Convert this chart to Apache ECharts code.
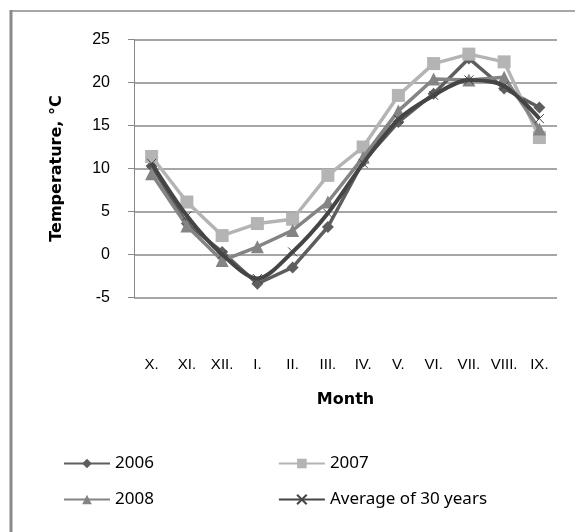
<!DOCTYPE html>
<html><head><meta charset="utf-8">
<script src="https://cdn.jsdelivr.net/npm/echarts@6/dist/echarts.min.js"></script>
<style>html,body{margin:0;padding:0;background:#fff}#c{width:575px;height:532px}</style>
</head><body><div id="c"></div>
<script>
var months = ['X.', 'XI.', 'XII.', 'I.', 'II.', 'III.', 'IV.', 'V.', 'VI.', 'VII.', 'VIII.', 'IX.'];
var s2006 = [10.3, 3.6, 0.3, -3.4, -1.5, 3.2, 10.8, 15.4, 18.7, 22.8, 19.3, 17.1];
var s2007 = [11.4, 6.1, 2.2, 3.6, 4.1, 9.2, 12.5, 18.5, 22.2, 23.3, 22.4, 13.6];
var s2008 = [9.4, 3.3, -0.7, 0.9, 2.8, 6.1, 11.3, 16.7, 20.4, 20.3, 20.6, 14.6];
var sAvg = [10.6, 4.5, 0.0, -2.8, 0.3, 4.8, 10.6, 15.7, 18.5, 20.3, 19.6, 15.8];
var names = ['2006', '2007', '2008', 'Average of 30 years'];

var tickFont = '"Liberation Sans",Arial,sans-serif';
var chart = echarts.init(document.getElementById('c'), null, {renderer: 'canvas'});
var legText = {fontFamily: 'Noto Sans', fontSize: 17, color: '#000'};
var titleStyle = {fontFamily: 'DejaVu Sans', fontWeight: 'bold', fontSize: 16, color: '#000'};
chart.setOption({
  animation: false,
  backgroundColor: '#fff',
  grid: {left: 134, right: 18, top: 39.5, bottom: 234.5, containLabel: false},
  xAxis: {
    type: 'category', data: months, boundaryGap: true,
    name: 'Month', nameLocation: 'middle', nameGap: 94,
    nameTextStyle: titleStyle,
    axisLine: {show: false}, axisTick: {show: false},
    axisLabel: {margin: 60, fontFamily: tickFont, fontSize: 15, color: '#000', interval: 0}
  },
  yAxis: {
    type: 'value', min: -5, max: 25, interval: 5,
    name: 'Temperature, \u00B0C', nameLocation: 'middle', nameGap: 69, nameRotate: 90,
    nameTextStyle: titleStyle,
    axisLine: {show: true, lineStyle: {color: '#888', width: 1}},
    axisTick: {show: true, length: 6, lineStyle: {color: '#888'}},
    axisLabel: {margin: 24, fontFamily: tickFont, fontSize: 16, color: '#000'},
    splitLine: {show: true, lineStyle: {color: '#888', width: 1.5}}
  },
  legend: [
    {data: ['2006', '2007'], left: 63, top: 455, padding: 0, orient: 'horizontal', itemWidth: 46, itemHeight: 12, itemGap: 124, textStyle: legText},
    {data: ['2008', 'Average of 30 years'], left: 63, top: 491, padding: 0, orient: 'horizontal', itemWidth: 46, itemHeight: 12, itemGap: 124, textStyle: legText}
  ],
  series: [
    {name: names[0], type: 'line', data: s2006, symbol: 'diamond', symbolSize: 12,
     lineStyle: {color: '#5e5e5e', width: 3.5}, itemStyle: {color: '#5e5e5e'}, z: 2},
    {name: names[1], type: 'line', data: s2007, symbol: 'rect', symbolSize: 13,
     lineStyle: {color: '#b4b4b4', width: 3.5}, itemStyle: {color: '#b4b4b4'}, z: 3},
    {name: names[2], type: 'line', data: s2008, symbol: 'triangle', symbolSize: 13,
     lineStyle: {color: '#848484', width: 3.5}, itemStyle: {color: '#848484'}, z: 4},
    {name: names[3], type: 'line', data: sAvg, smooth: 0.3, symbol: 'path://M0,0L10,10M10,0L0,10', symbolSize: 9,
     lineStyle: {color: '#454545', width: 4}, itemStyle: {color: 'rgba(0,0,0,0)', borderColor: '#454545', borderWidth: 1}, z: 5}
  ],
  graphic: [
    {type: 'line', shape: {x1: 10.5, y1: 11, x2: 575, y2: 11}, style: {stroke: '#8a8a8a', lineWidth: 1.5}, silent: true},
    {type: 'line', shape: {x1: 11, y1: 10, x2: 11, y2: 532}, style: {stroke: '#8a8a8a', lineWidth: 3}, silent: true}
  ]
});
</script></body></html>
